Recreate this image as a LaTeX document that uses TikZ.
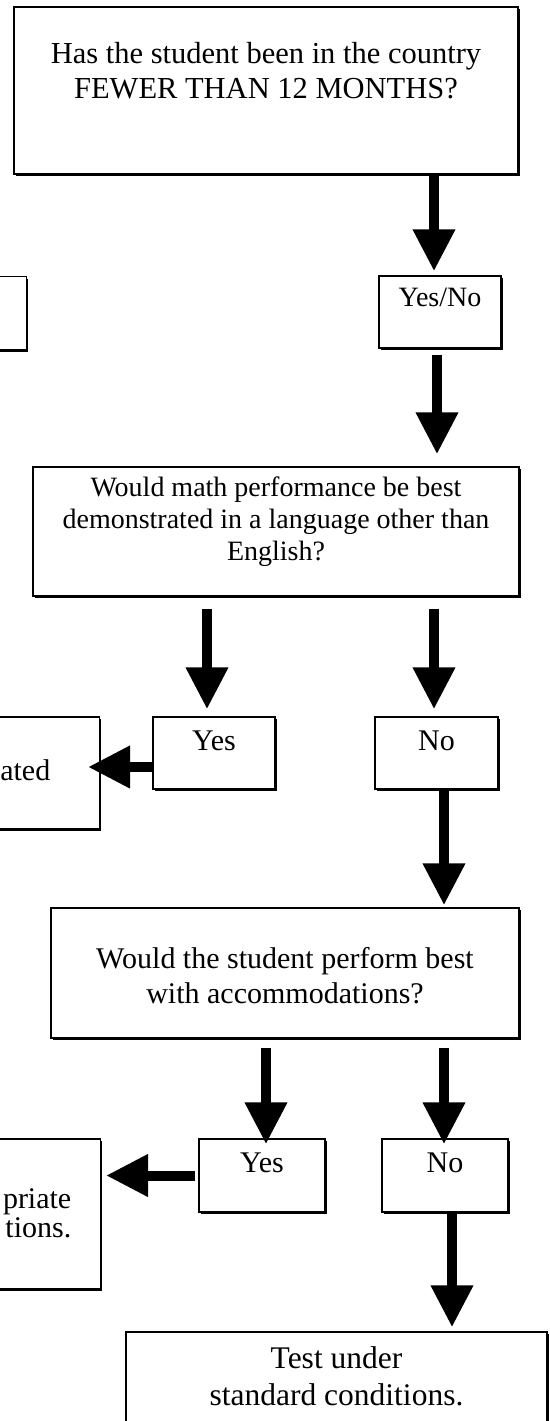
\documentclass[tikz,border=0pt]{standalone}
\usepackage{fontspec}
\setmainfont{Liberation Serif}
\usetikzlibrary{arrows.meta,shadows}

\begin{document}
\begin{tikzpicture}[x=1pt,y=-1pt,
 qbox/.style={draw,line width=1.4pt,fill=white,inner sep=0pt,align=center,
  drop shadow={shadow xshift=2pt,shadow yshift=-2pt,fill=black,opacity=1}},
 flow/.style={-{Triangle[length=42pt,width=40pt]},line width=10pt}
]
\useasboundingbox (0,0) rectangle (549,1421);
\node[qbox,minimum width=504pt,text height=92pt,text depth=75pt,anchor=base,font=\fontsize{30.5}{35.5}\selectfont] (q1) at (266,99) {Has the student been in the country\\FEWER THAN 12 MONTHS?};
\node[qbox,minimum width=200pt,minimum height=73pt,anchor=north east] (cut1) at (27,276) {};
\node[qbox,minimum width=122pt,text height=30pt,text depth=42pt,anchor=base,font=\fontsize{28}{32}\selectfont] (yn) at (440,306) {Yes/No};
\node[qbox,minimum width=486pt,text height=93pt,text depth=36pt,anchor=base,font=\fontsize{28}{32}\selectfont] (q2) at (276,560) {Would math performance be best\\demonstrated in a language other than\\English?};
\node[qbox,minimum width=122pt,text height=33pt,text depth=39pt,anchor=base,font=\fontsize{30}{34}\selectfont] (yes1) at (214,750) {Yes};
\node[qbox,minimum width=123pt,text height=33pt,text depth=39pt,anchor=base,font=\fontsize{30}{34}\selectfont] (no1) at (436.5,750) {No};
\node[qbox,text width=150pt,align=right,inner xsep=49pt,text height=63pt,text depth=49pt,anchor=base east,font=\fontsize{30}{34}\selectfont] (cut2) at (100,780) {ated};
\node[qbox,minimum width=468pt,text height=95pt,text depth=35pt,anchor=base,font=\fontsize{30}{35}\selectfont] (q3) at (285,1003) {Would the student perform best\\with accommodations?};
\node[qbox,minimum width=126pt,text height=33pt,text depth=40pt,anchor=base,font=\fontsize{30}{34}\selectfont] (yes2) at (262,1172) {Yes};
\node[qbox,minimum width=126pt,text height=33pt,text depth=40pt,anchor=base,font=\fontsize{30}{34}\selectfont] (no2) at (445,1172) {No};
\node[qbox,text width=150pt,align=right,inner xsep=29pt,text height=69pt,text depth=81pt,anchor=base east,font=\fontsize{30}{29}\selectfont] (cut3) at (101,1208) {priate\hspace{10pt}\\tions.};
\node[qbox,minimum width=421pt,text height=73pt,text depth=30pt,anchor=base,font=\fontsize{31.5}{37}\selectfont] (std) at (336.5,1405) {Test under\\standard conditions.};
% arrows
\draw[flow] ([xshift=-6pt]yn.north |- q1.south) -- ([xshift=-6pt,yshift=4pt]yn.north);
\draw[flow] ([xshift=-3pt,yshift=-6pt]yn.south) -- ([xshift=-3pt,yshift=12pt]yn.south |- q2.north);
\draw[flow] ([xshift=-7pt,yshift=-12pt]yes1.north |- q2.south) -- ([xshift=-7pt,yshift=7pt]yes1.north);
\draw[flow] ([xshift=-2.5pt,yshift=-12pt]no1.north |- q2.south) -- ([xshift=-2.5pt,yshift=7pt]no1.north);
\draw[flow] ([yshift=-14pt]yes1.west) -- ([yshift=-14pt,xshift=-12pt]yes1.west -| cut2.east);
\draw[flow] ([xshift=7.5pt]no1.south) -- ([xshift=7.5pt,yshift=2pt]no1.south |- q3.north);
\draw[flow] ([xshift=4pt,yshift=-9pt]yes2.north |- q3.south) -- ([xshift=4pt,yshift=-6pt]yes2.north);
\draw[flow] ([xshift=-1pt,yshift=-9pt]no2.north |- q3.south) -- ([xshift=-1pt,yshift=-6pt]no2.north);
\draw[flow] ([xshift=-3pt]yes2.west) -- ([xshift=5pt]yes2.west -| cut3.east);
\draw[flow] ([xshift=7pt]no2.south) -- ([xshift=7pt,yshift=4pt]no2.south |- std.north);
\end{tikzpicture}
\end{document}
